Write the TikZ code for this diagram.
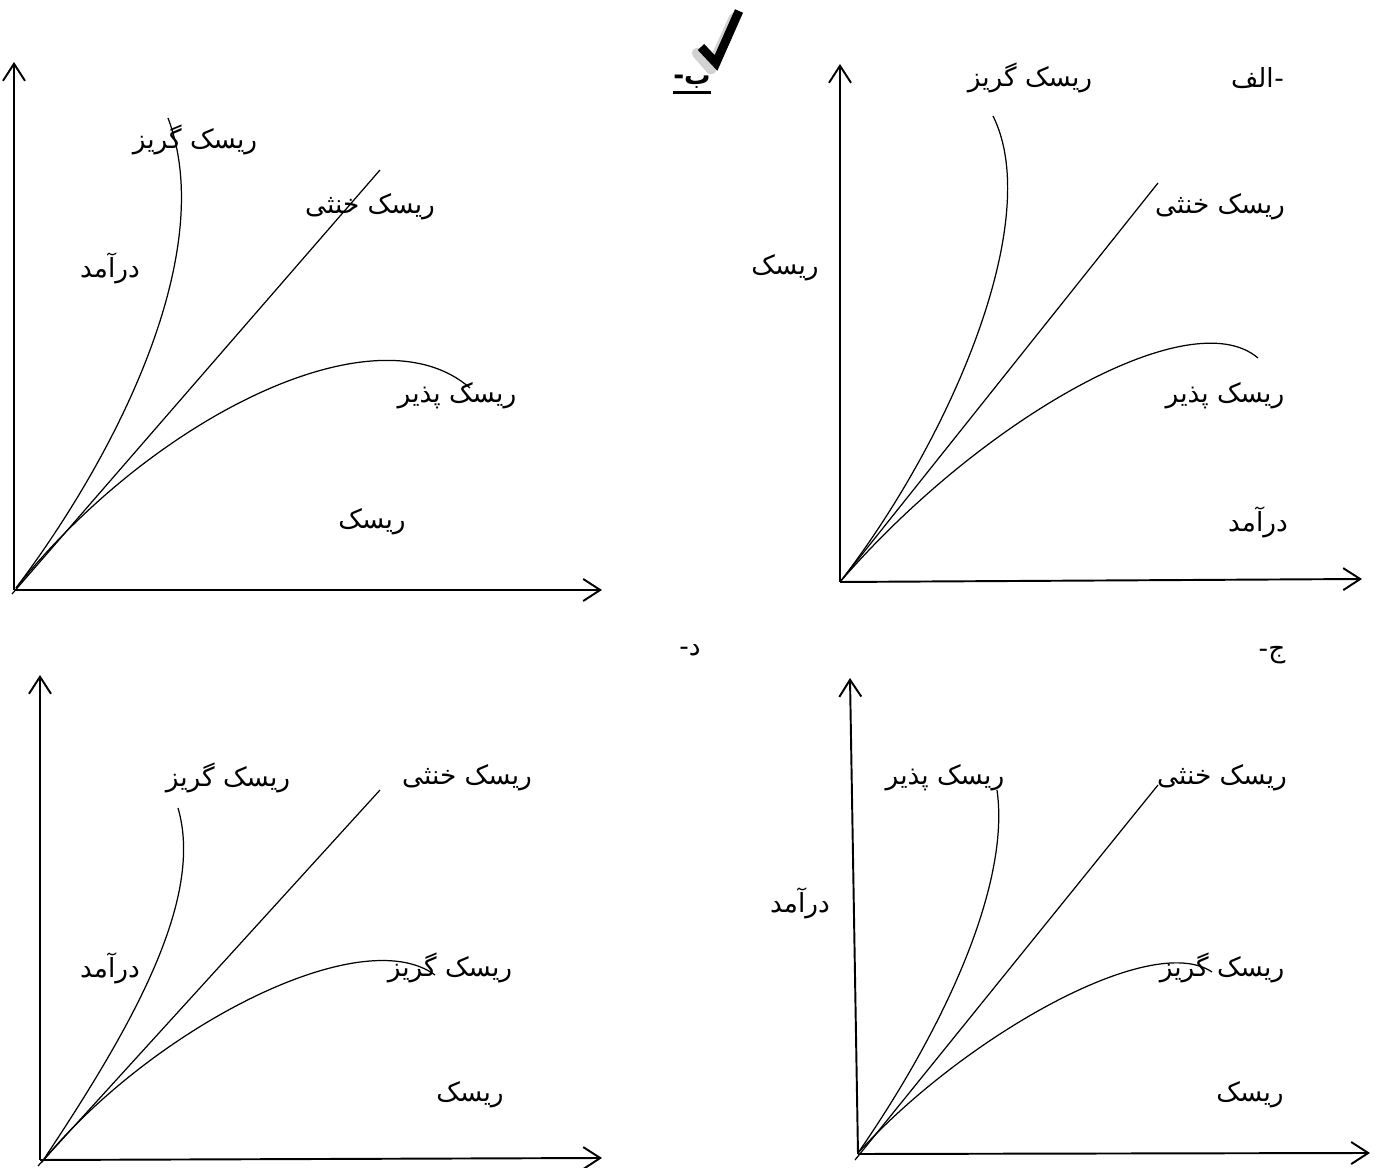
\documentclass[tikz,border=0pt]{standalone}
\usepackage{fontspec}
\newfontfamily\arabicfont[Script=Arabic]{DejaVu Sans}
\TeXXeTstate=1
\usetikzlibrary{arrows.meta}
\newcommand{\fa}[1]{\arabicfont\beginR #1\endR}

\begin{document}
\begin{tikzpicture}[x=0.02cm,y=-0.02cm,
  axis/.style={line width=1.1pt,-{Straight Barb[length=3.4mm,width=4.4mm]}},
  curve/.style={line width=0.7pt},
  lbl/.style={font=\fontsize{15}{18}\selectfont,inner sep=0pt}]
\useasboundingbox (0,0) rectangle (1384,1168);

% panel b (top left)
\coordinate (oB) at (14,590);
\coordinate (yB) at (14,62);
\coordinate (xB) at (602,590);
\draw[axis] (oB) -- (yB);
\draw[axis] (oB) -- (xB);
\draw[curve] (16,588) .. controls (120,450) and (218,250) .. (168,118);
\draw[curve] (12,594) -- (380,170);
\draw[curve] (16,588) .. controls (150,420) and (375,305) .. (470,388);
\node[lbl] (bAverse) at (195,140) {\fa{ریسک گریز}};
\node[lbl] (bNeutral) at (370,207) {\fa{ریسک خنثی}};
\node[lbl] (bIncome) at (110,268) {\fa{درآمد}};
\node[lbl] (bSeeking) at (457,396) {\fa{ریسک پذیر}};
\node[lbl] (bRisk) at (372,522) {\fa{ریسک}};
\node[lbl,font=\fontsize{15}{18}\selectfont\bfseries] (bTag) at (692,82) {\fa{ب-}};
\draw[line width=1.4pt] ([yshift=-2pt]bTag.south west) -- ([yshift=-2pt]bTag.south east);
% tick mark
\draw[gray!35,line width=6pt,line cap=round,line join=round] (697,53) -- (711,69) -- (734,18);
\draw[line width=5pt,line join=miter] (701,47) -- (716,63) -- (739,11);

% panel alef (top right)
\coordinate (oA) at (840,582);
\coordinate (yA) at (840,64);
\coordinate (xA) at (1362,579);
\draw[axis] (oA) -- (yA);
\draw[axis] (oA) -- (xA);
\draw[curve] (840,582) .. controls (950,440) and (1045,220) .. (993,116);
\draw[curve] (840,582) -- (1158,183);
\draw[curve] (840,582) .. controls (980,420) and (1190,300) .. (1258,358);
\node[lbl,anchor=east] (aTag) at (1274,78) {\fa{الف}};
\node[lbl,anchor=base west] (aDash) at (aTag.base east) {\arabicfont -};
\node[lbl] (aAverse) at (1030,78) {\fa{ریسک گریز}};
\node[lbl] (aNeutral) at (1220,207) {\fa{ریسک خنثی}};
\node[lbl] (aRisk) at (785,268) {\fa{ریسک}};
\node[lbl] (aSeeking) at (1225,396) {\fa{ریسک پذیر}};
\node[lbl] (aIncome) at (1258,522) {\fa{درآمد}};

% panel dal (bottom left)
\coordinate (oD) at (40,1160);
\coordinate (yD) at (40,675);
\coordinate (xD) at (602,1158);
\draw[axis] (oD) -- (yD);
\draw[axis] (oD) -- (xD);
\draw[curve] (42,1162) .. controls (130,1030) and (205,900) .. (178,808);
\draw[curve] (38,1166) -- (380,790);
\draw[curve] (42,1162) .. controls (150,1030) and (360,920) .. (435,975);
\node[lbl] (dTag) at (690,650) {\fa{د-}};
\node[lbl] (dAverse) at (228,778) {\fa{ریسک گریز}};
\node[lbl] (dNeutral) at (467,778) {\fa{ریسک خنثی}};
\node[lbl] (dIncome) at (110,968) {\fa{درآمد}};
\node[lbl] (dAverse2) at (450,968) {\fa{ریسک گریز}};
\node[lbl] (dRisk) at (470,1095) {\fa{ریسک}};

% panel jim (bottom right)
\coordinate (oJ) at (858,1154);
\coordinate (yJ) at (850,678);
\coordinate (xJ) at (1370,1153);
\draw[axis] (oJ) -- (yJ);
\draw[axis] (oJ) -- (xJ);
\draw[curve] (858,1153) .. controls (950,1020) and (1010,880) .. (997,790);
\draw[curve] (855,1160) -- (1158,785);
\draw[curve] (858,1153) .. controls (960,1040) and (1150,930) .. (1212,972);
\node[lbl] (jTag) at (1272,655) {\fa{ج-}};
\node[lbl] (jSeeking) at (945,778) {\fa{ریسک پذیر}};
\node[lbl] (jNeutral) at (1222,778) {\fa{ریسک خنثی}};
\node[lbl] (jIncome) at (800,903) {\fa{درآمد}};
\node[lbl] (jAverse) at (1222,968) {\fa{ریسک گریز}};
\node[lbl] (jRisk) at (1250,1095) {\fa{ریسک}};
\end{tikzpicture}
\end{document}
